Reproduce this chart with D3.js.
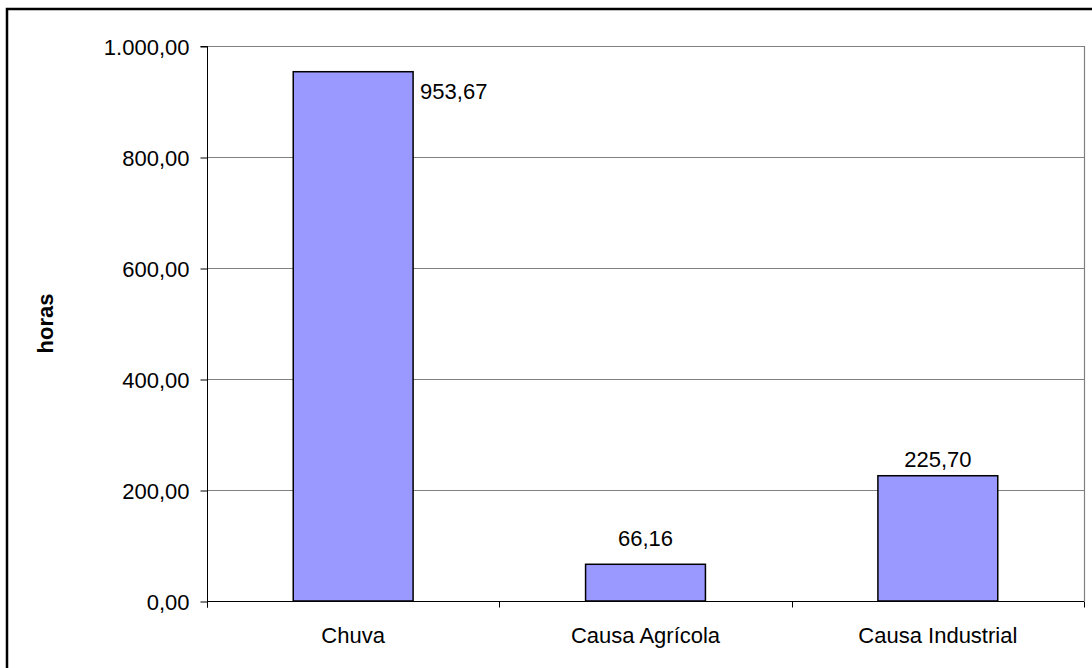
<!DOCTYPE html>
<html>
<head>
<meta charset="utf-8">
<script src="https://cdn.jsdelivr.net/npm/d3@7"></script>
<style>
  html, body { margin: 0; padding: 0; background: #fff; }
  svg { display: block; }
  text { font-family: "Liberation Sans", Arial, sans-serif; fill: #000; }
</style>
</head>
<body>
<svg id="chart" width="1092" height="668"></svg>
<script>
const categories = ["Chuva", "Causa Agrícola", "Causa Industrial"];
const values = [953.67, 66.16, 225.70];
const valueLabels = ["953,67", "66,16", "225,70"];
const yTicks = [0, 200, 400, 600, 800, 1000];
const yTickLabels = ["0,00", "200,00", "400,00", "600,00", "800,00", "1.000,00"];
const yTitle = "horas";

const svg = d3.select("#chart");
const plot = { left: 207, right: 1084, top: 46, bottom: 601 };
const FS = "22px";

// outer chart border
svg.append("rect").attr("x", 7).attr("y", 9).attr("width", 1100).attr("height", 700)
  .attr("fill", "#fff").attr("stroke", "#000").attr("stroke-width", 2.5);

const xb = d3.scaleBand().domain(categories).range([plot.left, plot.right]);
const barW = xb.bandwidth() * 0.41;
const barX = c => xb(c) + (xb.bandwidth() - barW) / 2;
const y = d3.scaleLinear().domain([0, 1000]).range([plot.bottom, plot.top]);

// gridlines
svg.append("g").selectAll("line").data(yTicks.filter(d => d > 0)).join("line")
  .attr("x1", plot.left).attr("x2", plot.right)
  .attr("y1", d => Math.round(y(d)) + 0.5).attr("y2", d => Math.round(y(d)) + 0.5)
  .attr("stroke", "#808080").attr("stroke-width", 1);

// right plot border
svg.append("line").attr("x1", plot.right + 0.5).attr("x2", plot.right + 0.5)
  .attr("y1", plot.top).attr("y2", plot.bottom)
  .attr("stroke", "#808080").attr("stroke-width", 1.2);

// bars
svg.append("g").selectAll("rect").data(values).join("rect")
  .attr("x", (d, i) => barX(categories[i]))
  .attr("width", barW)
  .attr("y", d => y(d))
  .attr("height", d => y(0) - y(d))
  .attr("fill", "#9999FF").attr("stroke", "#000").attr("stroke-width", 1.5);

// y axis
const yAxis = d3.axisLeft(y).tickValues(yTicks).tickSize(7).tickPadding(11)
  .tickFormat((d, i) => yTickLabels[i]);
const gy = svg.append("g").attr("transform", `translate(${plot.left + 0.5},0.5)`).call(yAxis);
gy.select(".domain").attr("stroke", "#000").attr("d", `M-7,${plot.top}H0V${plot.bottom + 6}`);
gy.selectAll(".tick line").attr("stroke", "#000");
gy.selectAll(".tick text").style("font-size", FS).attr("dy", "0.35em");

// x axis
const xAxis = d3.axisBottom(xb).tickSize(0).tickPadding(0);
const gx = svg.append("g").attr("transform", `translate(0,${plot.bottom + 0.5})`).call(xAxis);
gx.select(".domain").attr("stroke", "#000").attr("d", `M${plot.left},0H${plot.right}`);
gx.selectAll(".tick text").style("font-size", FS).attr("y", 41).attr("dy", 0);
// boundary ticks
const bounds = categories.map(c => xb(c)).concat([plot.right]);
gx.append("g").selectAll("line").data(bounds).join("line")
  .attr("x1", d => Math.round(d) + 0.5).attr("x2", d => Math.round(d) + 0.5)
  .attr("y1", 0).attr("y2", 6).attr("stroke", "#000");

// value labels
svg.append("g").selectAll("text").data(values).join("text")
  .attr("x", (d, i) => i === 0 ? barX(categories[i]) + barW + 7 : barX(categories[i]) + barW / 2)
  .attr("y", (d, i) => i === 0 ? y(d) + 27 : (i === 1 ? y(d) - 18 : y(d) - 9))
  .attr("text-anchor", (d, i) => i === 0 ? "start" : "middle")
  .style("font-size", FS)
  .text((d, i) => valueLabels[i]);

// y title
svg.append("text")
  .attr("transform", `translate(53,${(plot.top + plot.bottom) / 2}) rotate(-90)`)
  .attr("text-anchor", "middle")
  .style("font-size", FS).style("font-weight", "bold")
  .text(yTitle);
</script>
</body>
</html>
